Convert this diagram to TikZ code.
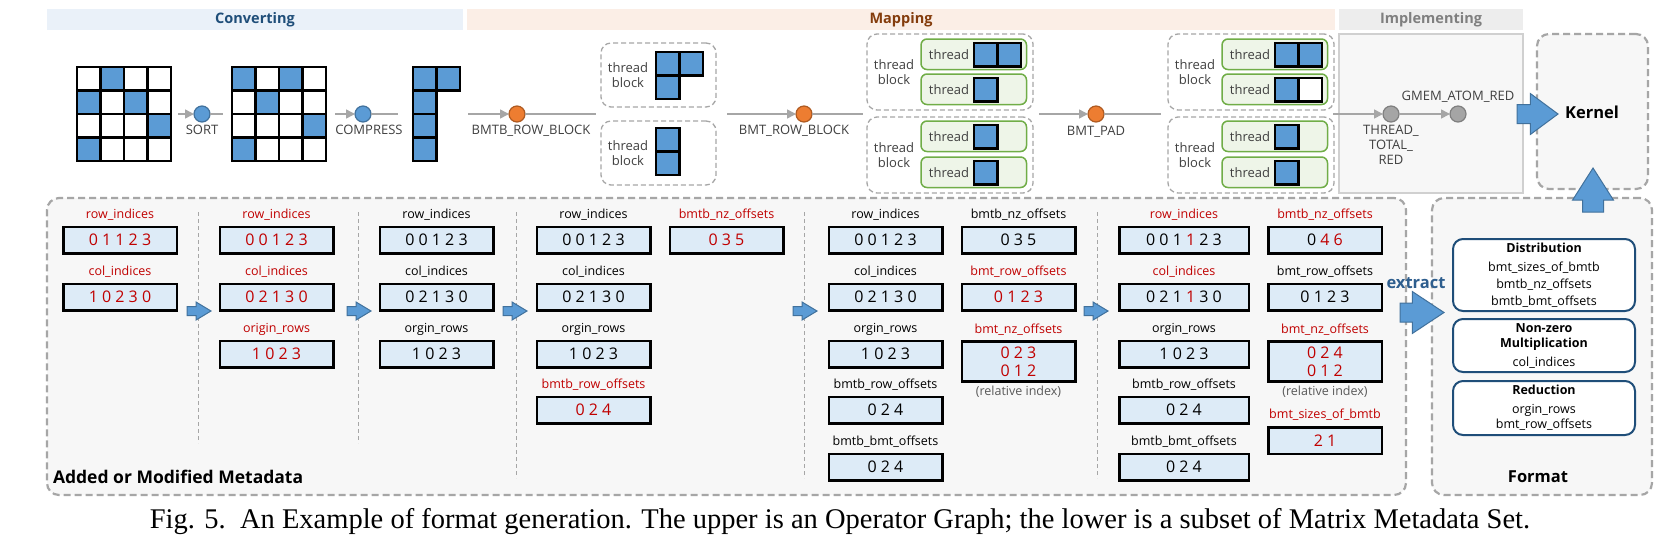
\documentclass[tikz,border=0pt]{standalone}
\usepackage{fontspec}
\setmainfont{Open Sans}
\newfontfamily\capfont{Liberation Serif}
\usetikzlibrary{shapes,arrows,arrows.meta}
\usetikzlibrary{calc,positioning}

\definecolor{cellblue}{HTML}{5B9BD5}
\definecolor{arrowedge}{HTML}{41719C}
\definecolor{boxblue}{HTML}{DDEBF7}
\definecolor{mdred}{HTML}{C00000}
\definecolor{panelfill}{HTML}{F7F7F7}
\definecolor{dashgray}{HTML}{A6A6A6}
\definecolor{impledge}{HTML}{D0D0D0}
\definecolor{thrgreen}{HTML}{70AD47}
\definecolor{thrfill}{HTML}{EEF5E8}
\definecolor{navy}{HTML}{1F4E79}
\definecolor{convband}{HTML}{EAF1F9}
\definecolor{mapband}{HTML}{FBEEE6}
\definecolor{implband}{HTML}{EDEDED}
\definecolor{maptext}{HTML}{843C0C}
\definecolor{opgray}{HTML}{404040}
\definecolor{relgray}{HTML}{595959}
\definecolor{orangeop}{HTML}{ED7D31}
\definecolor{orangeedge}{HTML}{AE5A21}
\definecolor{grayop}{HTML}{A5A5A5}
\definecolor{grayedge}{HTML}{7F7F7F}
\definecolor{extractblue}{HTML}{2E5E8E}

% One matrix cell (name, top-left x, top-left y, fill).
\newcommand\CELL[4] {
    \node[cell, fill=#4, anchor=north west] (#1) at (#2,#3) {};
}

% 4x4 sparse matrix (name, top-left x, top-left y, non-zero row/col list).
\newcommand\SPMAT[4] {
    \foreach \rr in {0,...,3}
    {
        \foreach \cc in {0,...,3}
        {
            \pgfmathsetmacro\cx{#2+23.5*\cc}
            \pgfmathsetmacro\cy{#3+23.5*\rr}
            \CELL{#1_\rr\cc}{\cx}{\cy}{white}
        }
    }
    \foreach \rr/\cc in {#4}
    {
        \pgfmathsetmacro\cx{#2+23.5*\cc}
        \pgfmathsetmacro\cy{#3+23.5*\rr}
        \CELL{#1_nz\rr\cc}{\cx}{\cy}{cellblue}
    }
}

% Dashed thread block (name, top-left x, top-left y, width, height).
\newcommand\TBLOCK[5] {
    \node[tblock, anchor=north west, minimum width=#4pt, minimum height=#5pt] (#1) at (#2,#3) {};
    \node[optext] (#1_txt) at ([xshift=27pt]#1.west) {thread\\block};
}

% Green thread box (name, top-left x, top-left y).
\newcommand\THREAD[3] {
    \node[thrbox, anchor=north west] (#1) at (#2,#3) {};
    \node[optext] (#1_txt) at ([xshift=28pt]#1.west) {thread};
}

% Metadata array ([style], name, centre x, centre y, label, label colour, values).
\newcommand\METABOX[7][] {
    \node[metabox, #1] (#2) at (#3,#4) {#7};
    \node[metalabel, text=#6] (#2_lbl) at ([yshift=8.5pt]#2.north) {#5};
}

\begin{document}
\begin{tikzpicture}[x=1pt, y=-1pt
    , every node/.style={inner sep=0pt, outer sep=0pt}
    , cell/.style={draw=black, line width=2.6pt, minimum size=23.5pt}
    , band/.style={minimum height=21pt, font=\bfseries\fontsize{14.5}{16}\selectfont}
    , bigpanel/.style={draw=dashgray, line width=2.2pt, dash pattern=on 7pt off 4pt,
        rounded corners=12pt, fill=panelfill}
    , tblock/.style={draw=dashgray, line width=1.3pt, dash pattern=on 5pt off 3pt,
        rounded corners=10pt, fill=white}
    , thrbox/.style={draw=thrgreen, line width=1.5pt, rounded corners=6pt, fill=thrfill,
        minimum width=105.5pt, minimum height=30.5pt}
    , optext/.style={text=opgray, align=center, font=\fontsize{13}{15}\selectfont}
    , opline/.style={draw=dashgray, line width=1.5pt}
    , bluenode/.style={circle, minimum size=16pt, fill=cellblue, draw=arrowedge, line width=1.2pt}
    , orangenode/.style={circle, minimum size=16pt, fill=orangeop, draw=orangeedge, line width=1.2pt}
    , graynode/.style={circle, minimum size=16pt, fill=grayop, draw=grayedge, line width=1.2pt}
    , metabox/.style={draw=black, line width=2.5pt, fill=boxblue, minimum width=113.5pt,
        minimum height=26.5pt, align=center, font=\fontsize{16}{18}\selectfont}
    , metalabel/.style={anchor=base, font=\fontsize{12.5}{14}\selectfont}
    , reltext/.style={text=relgray, font=\fontsize{12.5}{14}\selectfont}
    , sepline/.style={draw=dashgray, line width=1pt, dash pattern=on 4pt off 3pt}
    , blockarrow/.style={single arrow, draw=arrowedge, fill=cellblue, line width=1pt,
        anchor=tail, inner xsep=0pt}
    , fmtbox/.style={draw=navy, line width=2pt, rounded corners=10pt, fill=white,
        minimum width=182pt, align=center, font=\fontsize{12.5}{17}\selectfont}
    , bigtitle/.style={font=\bfseries\fontsize{16.5}{18}\selectfont}
    ]
    \path[use as bounding box, fill=white] (0,0) rectangle (1680,550);

    % Stage headers.
    \node[band, fill=convband, text=navy, minimum width=416pt] (conv) at (255,19.5) {Converting};
    \node[band, fill=mapband, text=maptext, minimum width=868pt] (mapp) at (901,19.5) {Mapping};
    \node[band, fill=implband, text=grayedge, minimum width=184pt] (impl) at (1431,19.5) {Implementing};

    % Panels.
    \node[draw=impledge, fill=panelfill, line width=1.2pt, minimum width=184pt,
        minimum height=159pt] (implpanel) at (1431,113.5) {};
    \node[bigpanel, minimum width=111pt, minimum height=155pt] (kern) at (1592.5,111.5) {};
    \node[bigpanel, minimum width=1359pt, minimum height=297pt] (meta) at (726.5,346.5) {};
    \node[bigpanel, minimum width=220pt, minimum height=297pt] (fmt) at (1542,346.5) {};

    % Matrices.
    \SPMAT{m1}{77}{67}{0/1,1/0,1/2,2/3,3/0}
    \SPMAT{m2}{232}{67}{0/0,0/2,1/1,2/3,3/0}
    \foreach \rr/\cc in {0/0,0/1,1/0,2/0,3/0}
    {
        \pgfmathsetmacro\cx{413+23.5*\cc}
        \pgfmathsetmacro\cy{67+23.5*\rr}
        \CELL{m3_\rr\cc}{\cx}{\cy}{cellblue}
    }

    % Thread blocks.
    \TBLOCK{tb1}{601}{43}{115}{64}
    \CELL{tb1_a}{656}{52}{cellblue}
    \CELL{tb1_b}{679.5}{52}{cellblue}
    \CELL{tb1_c}{656}{75.5}{cellblue}
    \TBLOCK{tb2}{601}{121}{115}{64}
    \CELL{tb2_a}{656}{128}{cellblue}
    \CELL{tb2_b}{656}{151.5}{cellblue}

    \TBLOCK{tb3}{867}{34}{166}{76}
    \THREAD{th3a}{921}{39}
    \THREAD{th3b}{921}{74}
    \CELL{th3a_a}{974}{43}{cellblue}
    \CELL{th3a_b}{997.5}{43}{cellblue}
    \CELL{th3b_a}{974}{78}{cellblue}
    \TBLOCK{tb4}{867}{117}{166}{76}
    \THREAD{th4a}{921}{121}
    \THREAD{th4b}{921}{157}
    \CELL{th4a_a}{974}{125}{cellblue}
    \CELL{th4b_a}{974}{161}{cellblue}

    \TBLOCK{tb5}{1168}{34}{166}{76}
    \THREAD{th5a}{1222}{39}
    \THREAD{th5b}{1222}{74}
    \CELL{th5a_a}{1275}{43}{cellblue}
    \CELL{th5a_b}{1298.5}{43}{cellblue}
    \CELL{th5b_a}{1275}{78}{cellblue}
    \CELL{th5b_b}{1298.5}{78}{white}
    \TBLOCK{tb6}{1168}{117}{166}{76}
    \THREAD{th6a}{1222}{121}
    \THREAD{th6b}{1222}{157}
    \CELL{th6a_a}{1275}{125}{cellblue}
    \CELL{th6b_a}{1275}{161}{cellblue}

    % Operators.
    \node[bluenode] (sort) at (202,114) {};
    \node[bluenode] (compress) at (363,114) {};
    \node[orangenode] (bmtbrow) at (517,114) {};
    \node[orangenode] (bmtrow) at (804,114) {};
    \node[orangenode] (bmtpad) at (1096,114) {};
    \node[graynode] (ttred) at (1391,114) {};
    \node[graynode] (gmem) at (1458,114) {};
    \foreach \op/\xin/\xout in {sort/178/223, compress/335/398, bmtbrow/468/596,
        bmtrow/727/863, bmtpad/1039/1161}
    {
        \coordinate (\op_in) at (\xin,114);
        \coordinate (\op_out) at (\xout,114);
        \draw[opline, -{Triangle[length=9pt, width=9pt]}] (\op_in) -- (\op);
        \draw[opline] (\op) -- (\op_out);
    }
    \coordinate (ttred_in) at (1333,114);
    \draw[opline, -{Triangle[length=9pt, width=9pt]}] (ttred_in) -- (ttred);
    \draw[opline, -{Triangle[length=9pt, width=9pt]}] (ttred) -- (gmem);

    \node[optext, below=3pt of sort] (sort_lbl) {SORT};
    \node[optext, below=3pt of compress, xshift=6pt] (compress_lbl) {COMPRESS};
    \node[optext, below=3pt of bmtbrow, xshift=14pt] (bmtbrow_lbl) {BMTB\_ROW\_BLOCK};
    \node[optext, below=3pt of bmtrow, xshift=-10pt] (bmtrow_lbl) {BMT\_ROW\_BLOCK};
    \node[optext, below=4pt of bmtpad] (bmtpad_lbl) {BMT\_PAD};
    \node[optext, below=3pt of ttred] (ttred_lbl) {THREAD\_\\TOTAL\_\\RED};
    \node[optext, above=4pt of gmem] (gmem_lbl) {GMEM\_ATOM\_RED};

    % Separators between steps.
    \foreach \sx/\sy in {198/443, 358/443, 516/478, 804/478, 1097/478}
        \draw[sepline] (\sx,212) -- (\sx,\sy);

    % Metadata after SORT.
    \METABOX[text=mdred]{c1_row}{120}{240}{row\_indices}{mdred}{0 1 1 2 3}
    \METABOX[text=mdred]{c1_col}{120}{297}{col\_indices}{mdred}{1 0 2 3 0}
    \METABOX[text=mdred]{c2_row}{276.5}{240}{row\_indices}{mdred}{0 0 1 2 3}
    \METABOX[text=mdred]{c2_col}{276.5}{297}{col\_indices}{mdred}{0 2 1 3 0}
    \METABOX[text=mdred]{c2_org}{276.5}{354}{origin\_rows}{mdred}{1 0 2 3}
    % After COMPRESS.
    \METABOX{c3_row}{436.5}{240}{row\_indices}{black}{0 0 1 2 3}
    \METABOX{c3_col}{436.5}{297}{col\_indices}{black}{0 2 1 3 0}
    \METABOX{c3_org}{436.5}{354}{orgin\_rows}{black}{1 0 2 3}
    % After BMTB_ROW_BLOCK.
    \METABOX{c4_row}{593.5}{240}{row\_indices}{black}{0 0 1 2 3}
    \METABOX{c4_col}{593.5}{297}{col\_indices}{black}{0 2 1 3 0}
    \METABOX{c4_org}{593.5}{354}{orgin\_rows}{black}{1 0 2 3}
    \METABOX[text=mdred]{c4_bro}{593.5}{410}{bmtb\_row\_offsets}{mdred}{0 2 4}
    \METABOX[text=mdred]{c4_bnz}{726.5}{240}{bmtb\_nz\_offsets}{mdred}{0 3 5}
    % After BMT_ROW_BLOCK.
    \METABOX{c5_row}{885.5}{240}{row\_indices}{black}{0 0 1 2 3}
    \METABOX{c5_col}{885.5}{297}{col\_indices}{black}{0 2 1 3 0}
    \METABOX{c5_org}{885.5}{354}{orgin\_rows}{black}{1 0 2 3}
    \METABOX{c5_bro}{885.5}{410}{bmtb\_row\_offsets}{black}{0 2 4}
    \METABOX{c5_bbo}{885.5}{467}{bmtb\_bmt\_offsets}{black}{0 2 4}
    \METABOX{c5_bnz}{1018.5}{240}{bmtb\_nz\_offsets}{black}{0 3 5}
    \METABOX[text=mdred]{c5_tro}{1018.5}{297}{bmt\_row\_offsets}{mdred}{0 1 2 3}
    \METABOX[text=mdred, minimum height=40pt]{c5_tnz}{1018.5}{361.5}{bmt\_nz\_offsets}{mdred}{0 2 3\\0 1 2}
    \node[reltext, below=4pt of c5_tnz] (c5_rel) {(relative index)};
    % After BMT_PAD.
    \METABOX[minimum width=129.5pt]{c6_row}{1184}{240}{row\_indices}{mdred}{0 0 1 \textcolor{mdred}{1} 2 3}
    \METABOX[minimum width=129.5pt]{c6_col}{1184}{297}{col\_indices}{mdred}{0 2 1 \textcolor{mdred}{1} 3 0}
    \METABOX[minimum width=129.5pt]{c6_org}{1184}{354}{orgin\_rows}{black}{1 0 2 3}
    \METABOX[minimum width=129.5pt]{c6_bro}{1184}{410}{bmtb\_row\_offsets}{black}{0 2 4}
    \METABOX[minimum width=129.5pt]{c6_bbo}{1184}{467}{bmtb\_bmt\_offsets}{black}{0 2 4}
    \METABOX{c6_bnz}{1325}{240}{bmtb\_nz\_offsets}{mdred}{0 \textcolor{mdred}{4 6}}
    \METABOX{c6_tro}{1325}{297}{bmt\_row\_offsets}{black}{0 1 2 3}
    \METABOX[text=mdred, minimum height=40pt]{c6_tnz}{1325}{361.5}{bmt\_nz\_offsets}{mdred}{0 2 4\\0 1 2}
    \node[reltext, below=4pt of c6_tnz] (c6_rel) {(relative index)};
    \METABOX[text=mdred]{c6_siz}{1325}{440.5}{bmt\_sizes\_of\_bmtb}{mdred}{2 1}

    % Step arrows.
    \foreach \ax [count=\i] in {187, 347, 503, 793, 1084}
        \node[blockarrow, minimum height=24pt, inner ysep=4pt,
            single arrow head extend=4.5pt, single arrow tip angle=62] (next\i) at (\ax,311) {};

    \node[bigtitle, font=\bfseries\fontsize{17.5}{19}\selectfont, anchor=west] (meta_title)
        at (53,477) {Added or Modified Metadata};

    % Format.
    \node[fmtbox, minimum height=72pt] (distr) at (1544,275)
        {\textbf{Distribution}\\[2pt]bmt\_sizes\_of\_bmtb\\bmtb\_nz\_offsets\\bmtb\_bmt\_offsets};
    \node[fmtbox, minimum height=53pt] (nzmul) at (1544,345.5)
        {\textbf{Non-zero}\\[-2pt]\textbf{Multiplication}\\[2pt]col\_indices};
    \node[fmtbox, minimum height=54pt] (reduc) at (1544,408)
        {\textbf{Reduction}\\[2pt]orgin\_rows\\[-2pt]bmt\_row\_offsets};
    \node[bigtitle] (fmt_title) at (1538,477) {Format};

    % Extract, kernel.
    \node[blockarrow, minimum height=44pt, inner ysep=9pt,
        single arrow head extend=11.5pt, single arrow tip angle=67] (extract) at (1400,312.5) {};
    \node[font=\bfseries\fontsize{16.5}{18}\selectfont, text=extractblue] (extract_lbl) at (1416,283) {extract};
    \node[blockarrow, minimum height=41pt, inner ysep=9pt,
        single arrow head extend=11pt, single arrow tip angle=73] (tokernel) at (1517,114) {};
    \node[blockarrow, minimum height=44pt, inner ysep=10pt, rotate=90,
        single arrow head extend=10pt, single arrow tip angle=65] (fmtup) at (1593,212) {};
    \node[bigtitle] (kern_title) at (1592,112) {Kernel};

    % Caption.
    \node[font=\capfont\fontsize{28.5}{30}\selectfont, anchor=base] (caption) at (840,528)
        {Fig. 5.\ \ An Example of format generation. The upper is an Operator Graph; the lower is a subset of Matrix Metadata Set.};
\end{tikzpicture}
\end{document}
